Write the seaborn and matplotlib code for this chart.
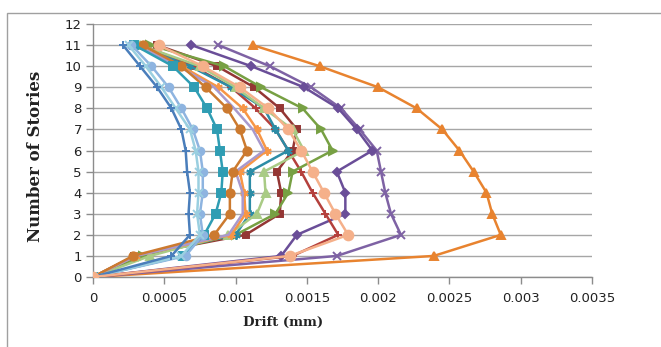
import matplotlib
matplotlib.use("Agg")
import matplotlib.pyplot as plt
from matplotlib.patches import Rectangle
import numpy as np
import seaborn as sns

sns.set_style("white")
plt.rcParams["font.family"] = ["DejaVu Sans"]

# story levels (y) and drift values (x) for each load case
stories = list(range(12))

blue_plus = [0, 0.00055, 0.00068, 0.00067, 0.00068, 0.00066, 0.00065, 0.00062, 0.00055, 0.00045, 0.00033, 0.00021]
cyan_x = [0, 0.00062, 0.00075, 0.00073, 0.00074, 0.00074, 0.00072, 0.00068, 0.00058, 0.00048, 0.00037, 0.00025]
lightblue_o = [0, 0.00065, 0.00077, 0.00075, 0.00077, 0.00077, 0.00075, 0.00070, 0.00062, 0.00053, 0.00041, 0.00027]
teal_sq = [0, 0.00063, 0.00078, 0.00086, 0.00090, 0.00091, 0.00089, 0.00087, 0.00080, 0.00071, 0.00056, 0.00029]
orange_o = [0, 0.00028, 0.00085, 0.00096, 0.00096, 0.00098, 0.00108, 0.00103, 0.00094, 0.00079, 0.00062, 0.00035]
lilac = [0, 0.00030, 0.00095, 0.00105, 0.00105, 0.00100, 0.00120, 0.00112, 0.00099, 0.00085, 0.00060, 0.00030]
orange_star = [0, 0.00030, 0.00097, 0.00107, 0.00106, 0.00103, 0.00122, 0.00115, 0.00105, 0.00088, 0.00062, 0.00030]
teal_star = [0, 0.00030, 0.00100, 0.00110, 0.00110, 0.00110, 0.00137, 0.00128, 0.00120, 0.00097, 0.00068, 0.00030]
lightgreen_tri = [0, 0.00040, 0.00095, 0.00115, 0.00121, 0.00120, 0.00148, 0.00140, 0.00120, 0.00100, 0.00075, 0.00033]
darkred_sq = [0, 0.00029, 0.00107, 0.00131, 0.00132, 0.00129, 0.00140, 0.00143, 0.00131, 0.00113, 0.00087, 0.00045]
green_tri = [0, 0.00035, 0.00100, 0.00128, 0.00137, 0.00140, 0.00168, 0.00160, 0.00147, 0.00118, 0.00092, 0.00040]
red_plus = [0, 0.00140, 0.00172, 0.00163, 0.00154, 0.00146, 0.00137, 0.00128, 0.00114, 0.00097, 0.00070, 0.00035]
peach_o = [0, 0.00138, 0.00179, 0.00170, 0.00162, 0.00154, 0.00146, 0.00137, 0.00123, 0.00103, 0.00077, 0.00046]
purple_d = [0, 0.00132, 0.00143, 0.00177, 0.00177, 0.00171, 0.00196, 0.00185, 0.00172, 0.00148, 0.00111, 0.00069]
purple_x = [0, 0.00171, 0.00216, 0.00209, 0.00205, 0.00202, 0.00199, 0.00187, 0.00174, 0.00153, 0.00124, 0.00088]
orange_tri = [0, 0.00239, 0.00286, 0.00280, 0.00276, 0.00267, 0.00257, 0.00245, 0.00227, 0.00200, 0.00159, 0.00112]

x_ticks = [0, 0.0005, 0.001, 0.0015, 0.002, 0.0025, 0.003, 0.0035]
x_ticklabels = ["0", "0.0005", "0.001", "0.0015", "0.002", "0.0025", "0.003", "0.0035"]
y_ticks = list(range(13))

STAR = (6, 2, 0)
series = [
    (orange_tri, "#E8832F", "^", 6),
    (purple_x, "#7E62A4", "x", 6),
    (purple_d, "#6A4E98", "D", 4.5),
    (red_plus, "#B4403C", "+", 6),
    (darkred_sq, "#943634", "s", 5),
    (green_tri, "#77A043", ">", 5.5),
    (teal_star, "#2C8CA6", STAR, 6),
    (lightgreen_tri, "#A9CB85", "^", 5.5),
    (orange_star, "#F79646", STAR, 6),
    (lilac, "#A999CC", "", 0),
    (orange_o, "#CC7A2F", "o", 6),
    (teal_sq, "#2F9DB3", "s", 6),
    (lightblue_o, "#8EB4E0", "o", 5.5),
    (cyan_x, "#9ACFE0", "x", 6),
    (blue_plus, "#4A7EBB", "+", 6),
    (peach_o, "#F5B08A", "o", 7),
]

fig = plt.figure(figsize=(6.61, 3.47), dpi=100)
ax = fig.add_axes([0.1407, 0.2017, 0.7549, 0.7291])

for i, (vals, col, mk, ms) in enumerate(series):
    sns.lineplot(x=vals, y=stories, sort=False, estimator=None, ax=ax,
                 color=col, linewidth=1.8, marker=mk if mk else None,
                 markersize=ms, markeredgecolor=col, markerfacecolor=col,
                 markeredgewidth=1.4, zorder=3 + i)

ax.set_xlim(0, 0.0035)
ax.set_ylim(0, 12)
ax.set_xticks(x_ticks)
ax.set_xticklabels(x_ticklabels)
ax.set_yticks(y_ticks)
ax.yaxis.grid(True, color="#A6A6A6", linewidth=1.0)
ax.xaxis.grid(False)
ax.set_axisbelow(True)
for s in ["top", "right"]:
    ax.spines[s].set_visible(False)
for s in ["left", "bottom"]:
    ax.spines[s].set_color("#8C8C8C")
    ax.spines[s].set_linewidth(1.0)
ax.tick_params(axis="both", which="major", length=5, width=1.0,
               color="#8C8C8C", labelsize=9.5, labelcolor="#222222",
               direction="out", bottom=True, left=True)
ax.tick_params(axis="x", pad=6)
ax.tick_params(axis="y", pad=3)
ax.set_xlabel("")
ax.set_ylabel("")

fig.text(36 / 661, 1 - 156 / 347, "Number of Stories", rotation=90,
         ha="center", va="center", fontsize=12, fontweight="bold",
         family="DejaVu Serif", color="#222222")
fig.text(283 / 661, 1 - 322 / 347, "Drift (mm)", ha="center", va="center",
         fontsize=9.5, fontweight="bold", family="DejaVu Serif", color="#222222")

# outer chart border
fig.patches.append(Rectangle((7 / 661, -0.1), 1.1, 1.1 - 13 / 347 + 0.0,
                             transform=fig.transFigure, fill=False,
                             edgecolor="#A0A0A0", linewidth=1.0))

fig.savefig("out.png", dpi=100)
